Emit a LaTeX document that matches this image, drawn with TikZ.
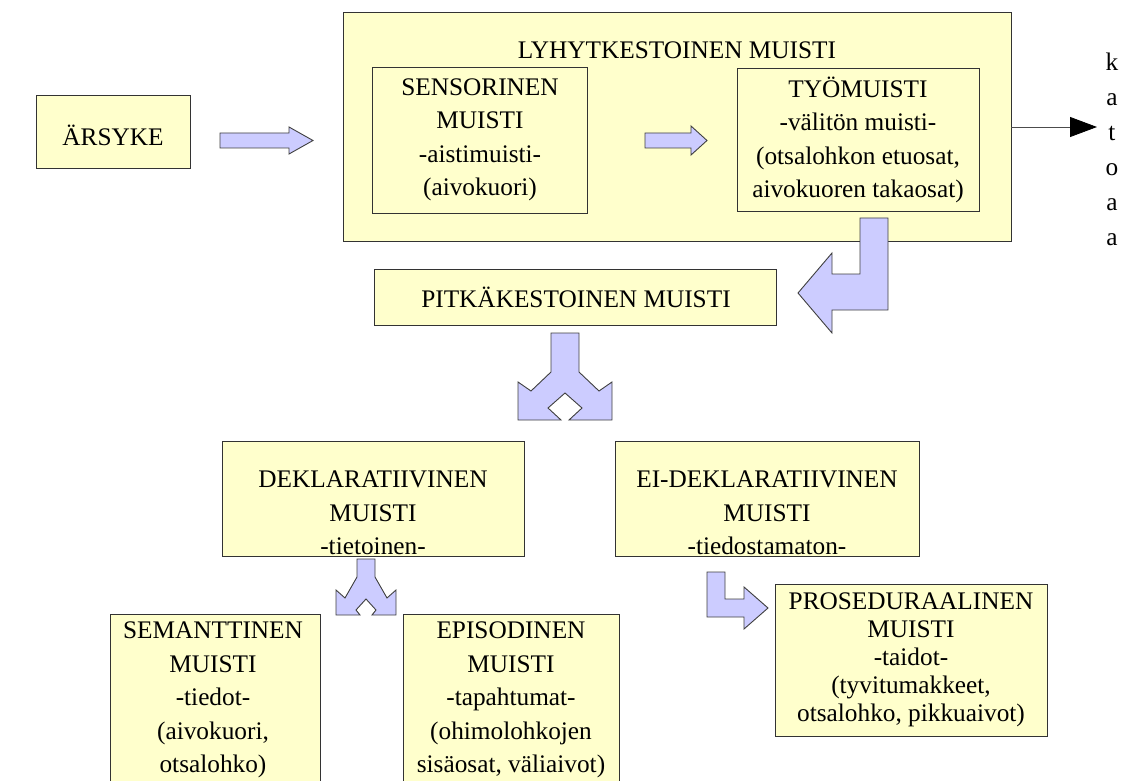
\documentclass[tikz,border=0pt]{standalone}
\usepackage{fontspec}
\setmainfont{Liberation Serif}
\newfontfamily\timesfont{Liberation Serif}
\usetikzlibrary{arrows.meta}
\definecolor{boxyellow}{HTML}{FFFFCC}
\definecolor{arrowblue}{HTML}{CCCCFF}
\tikzset{
  box/.style={draw=black!80, fill=boxyellow, line width=0.9pt, inner sep=0pt},
  txt/.style={align=center, inner sep=0pt},
  blockarrow/.style={draw=black!75, fill=arrowblue, line width=0.9pt, line join=miter},
}

\begin{document}
\begin{tikzpicture}[x=1pt,y=-1pt,font=\timesfont\fontsize{25.3}{33.5}\selectfont]
	\clip (0,0) rectangle (1128,781);
	\fill[white] (0,0) rectangle (1128,781);

	% boxes
	\node[box, minimum width=154, minimum height=73] (arsyke) at (113,131.5) {};
	\node[box, minimum width=668, minimum height=229] (lyhyt) at (677,126.5) {};
	\node[box, minimum width=215, minimum height=146] (sens) at (479.5,140) {};
	\node[box, minimum width=242, minimum height=143] (tyo) at (858,139.5) {};
	\node[box, minimum width=402, minimum height=56] (pitka) at (575,297) {};
	\node[box, minimum width=302, minimum height=115] (dekl) at (373,498.5) {};
	\node[box, minimum width=304, minimum height=115] (eidekl) at (767,498.5) {};
	\node[box, minimum width=210, minimum height=186] (sem) at (215,707) {};
	\node[box, minimum width=216, minimum height=186] (epi) at (511,707) {};
	\node[box, minimum width=272, minimum height=152] (prosed) at (911,660) {};

	% texts
	\node[txt] (arsyketxt) at (113,135) {ÄRSYKE};
	\node[txt] (lyhyttxt) at (677,50) {LYHYTKESTOINEN MUISTI};
	\node[txt] (senstxt) at (480,140) {SENSORINEN\\MUISTI\\-aistimuisti-\\(aivokuori)};
	\node[txt] (tyotxt) at (858,140) {TYÖMUISTI\\-välitön muisti-\\(otsalohkon etuosat,\\aivokuoren takaosat)};
	\node[txt] (pitkatxt) at (576,297) {PITKÄKESTOINEN MUISTI};
	\node[txt] (dekltxt) at (373,513) {DEKLARATIIVINEN\\MUISTI\\-tietoinen-};
	\node[txt] (eidekltxt) at (767,513) {EI-DEKLARATIIVINEN\\MUISTI\\-tiedostamaton-};
	\node[txt] (semtxt) at (213,700) {SEMANTTINEN\\MUISTI\\-tiedot-\\(aivokuori,\\otsalohko)};
	\node[txt] (epitxt) at (511,700) {EPISODINEN\\MUISTI\\-tapahtumat-\\(ohimolohkojen\\sisäosat, väliaivot)};
	\node[txt, font=\timesfont\fontsize{25.3}{28}\selectfont] (prosedtxt) at (911,660) {PROSEDURAALINEN\\MUISTI\\-taidot-\\(tyvitumakkeet,\\otsalohko, pikkuaivot)};

	% katoaa
	\foreach \ch [count=\i] in {k,a,t,o,a,a} {
		\node[anchor=base] (gone\i) at (1112,35.5+35*\i) {\ch};
	};
	\coordinate (gone) at (1097,127);
	\draw[black!70, line width=0.8pt, -{Triangle[length=27pt,width=20pt,black]}] (lyhyt.east |- gone) -- (gone);

	% block arrows
	\draw[blockarrow] (220,133) -- (289,133) -- (289,127) -- (313,140.5) -- (289,154) -- (289,148) -- (220,148) -- cycle;
	\draw[blockarrow] (645,133) -- (691,133) -- (691,126) -- (707,140.5) -- (691,155) -- (691,148) -- (645,148) -- cycle;
	\draw[blockarrow] (860,218) -- (888,218) -- (888,310) -- (832,310) -- (832,333) -- (798,293) -- (832,253) -- (832,274) -- (860,274) -- cycle;
	\draw[blockarrow] (551,333) -- (551,372) -- (531,391) -- (518,382) -- (518,420) -- (561,420) -- (548,408) -- (565,393) -- (582,408) -- (569,420) -- (612,420) -- (612,382) -- (599,391) -- (579,372) -- (579,333) -- cycle;
	\draw[blockarrow] (357,559) -- (357,577) -- (345,598) -- (336,590) -- (336,615) -- (360,615) -- (356,610) -- (366,599) -- (376,610) -- (372,615) -- (396,615) -- (396,590) -- (387,598) -- (375,577) -- (375,559) -- cycle;
	\draw[blockarrow] (707,572) -- (725,572) -- (725,599) -- (744,599) -- (744,587) -- (768,608) -- (744,629) -- (744,617) -- (707,617) -- cycle;
\end{tikzpicture}
\end{document}
